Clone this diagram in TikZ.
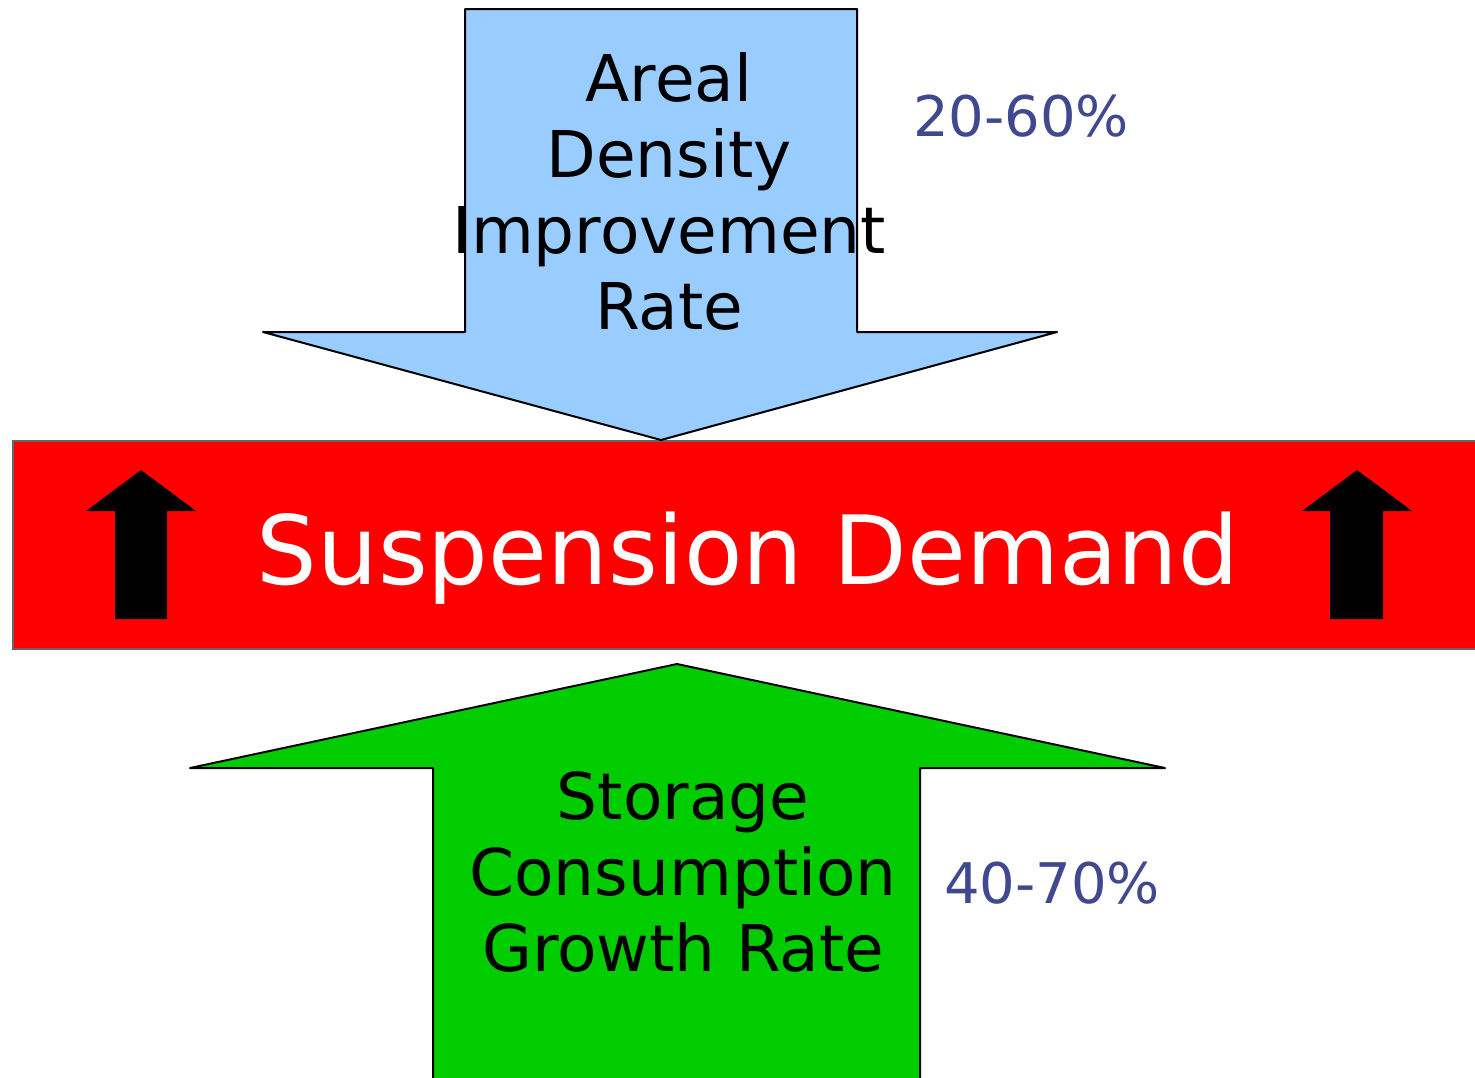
\documentclass[tikz,border=0pt]{standalone}
\usepackage{fontspec}
\setmainfont{DejaVu Sans}
\definecolor{bluefill}{RGB}{153,204,255}
\definecolor{greenfill}{RGB}{0,204,0}
\definecolor{redfill}{RGB}{255,0,0}
\definecolor{pcttext}{RGB}{64,72,144}
\tikzset{
  bigarrow/.style={draw=black, line width=2pt, line join=round},
  lbl/.style={align=center, font=\fontsize{64.5}{76}\selectfont, inner sep=0pt},
  pct/.style={font=\fontsize{56}{66}\selectfont, text=pcttext, inner sep=0pt, anchor=base west},
  smallup/.style={fill=black, draw=none}
}
\begin{document}
\begin{tikzpicture}[x=1pt,y=-1pt]
\useasboundingbox (0,0) rectangle (1475,1077);
% red band
\fill[redfill, draw=black!60, line width=1.2pt] (13,441) rectangle (1476,649);
% blue arrow
\filldraw[bigarrow, fill=bluefill] (465,9) -- (857,9) -- (857,332) -- (1057,332) -- (661,440) -- (263,332) -- (465,332) -- cycle;
% green arrow
\filldraw[bigarrow, fill=greenfill] (433,1080) -- (433,768) -- (190,768) -- (677,664) -- (1165,768) -- (920,768) -- (920,1080);
% small black arrows
\fill[smallup] (115,619) -- (115,511) -- (86,511) -- (141,470) -- (196,511) -- (167,511) -- (167,619) -- cycle;
\fill[smallup] (1330,619) -- (1330,511) -- (1302,511) -- (1357,470) -- (1412,511) -- (1383,511) -- (1383,619) -- cycle;
% texts
\node[lbl] (areal) at (669,191) {Areal\\Density\\Improvement\\Rate};
\node[lbl, font=\fontsize{95.6}{110}\selectfont, text=white, anchor=base] (susp) at (748,584) {Suspension Demand};
\node[lbl] (storage) at (683,872) {Storage\\Consumption\\Growth Rate};
\node[pct] (p1) at (913,136) {20-60\%};
\node[pct] (p2) at (944,903) {40-70\%};
\end{tikzpicture}
\end{document}
